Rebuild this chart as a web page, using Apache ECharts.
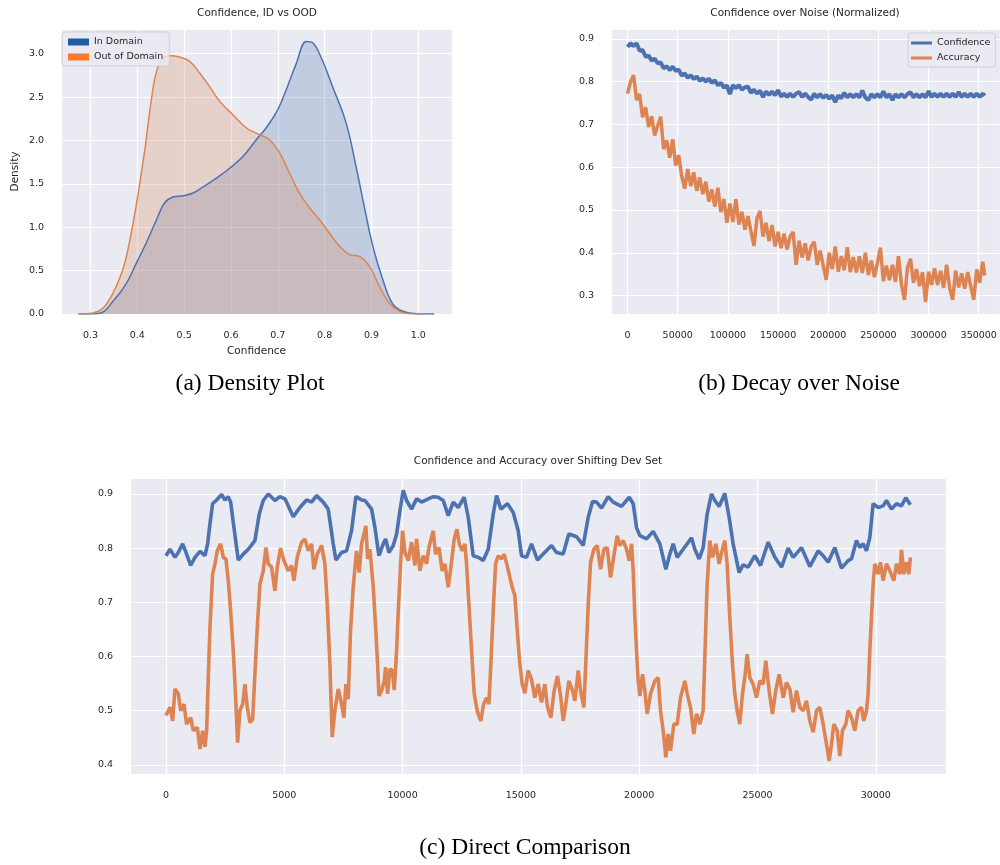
<!DOCTYPE html>
<html>
<head>
<meta charset="utf-8">
<script src="https://cdn.jsdelivr.net/npm/echarts@6/dist/echarts.min.js"></script>
<style>
  html, body { margin: 0; padding: 0; background: #fff; }
  #chart { width: 1000px; height: 865px; }
</style>
</head>
<body>
<div id="chart"></div>
<script>
// (a) density of confidence, in domain vs out of domain
const idConf = [0.274, 0.32, 0.348, 0.377, 0.4, 0.419, 0.441, 0.458, 0.476, 0.499, 0.519, 0.54, 0.569, 0.598, 0.626, 0.654, 0.675, 0.7, 0.718, 0.739, 0.761, 0.775, 0.793, 0.817, 0.846, 0.867, 0.888, 0.903, 0.924, 0.945, 0.967, 0.995, 1.034]
const idDensity = [0, 0.01, 0.146, 0.357, 0.61, 0.818, 1.087, 1.279, 1.348, 1.364, 1.395, 1.464, 1.567, 1.683, 1.817, 2.009, 2.144, 2.355, 2.585, 2.88, 3.142, 3.123, 2.95, 2.62, 2.2, 1.7, 1.15, 0.78, 0.4, 0.12, 0.031, 0.004, 0]
const oodConf = [0.277, 0.306, 0.327, 0.348, 0.37, 0.387, 0.402, 0.416, 0.43, 0.441, 0.455, 0.469, 0.49, 0.512, 0.533, 0.554, 0.576, 0.604, 0.633, 0.661, 0.682, 0.704, 0.725, 0.746, 0.768, 0.789, 0.81, 0.832, 0.853, 0.874, 0.896, 0.917, 0.938, 0.96, 0.981, 1.006]
const oodDensity = [0, 0.012, 0.069, 0.242, 0.53, 0.934, 1.395, 1.894, 2.47, 2.797, 2.95, 2.977, 2.962, 2.912, 2.778, 2.624, 2.451, 2.297, 2.144, 2.067, 2.009, 1.856, 1.625, 1.395, 1.222, 1.087, 0.934, 0.78, 0.684, 0.665, 0.549, 0.319, 0.127, 0.031, 0.004, 0]

// (b) decay over noise
const noiseSteps = [0, 3000, 6000, 9000, 12000, 15000, 18000, 21000, 24000, 27000, 30000, 33000, 36000, 39000, 42000, 45000, 48000, 51000, 54000, 57000,
  60000, 63000, 66000, 69000, 72000, 75000, 78000, 81000, 84000, 87000, 90000, 93000, 96000, 99000, 102000, 105000, 108000, 111000, 114000, 117000,
  120000, 123000, 126000, 129000, 132000, 135000, 138000, 141000, 144000, 147000, 150000, 153000, 156000, 159000, 162000, 165000, 168000, 171000, 174000, 177000,
  180000, 183000, 186000, 189000, 192000, 195000, 198000, 201000, 204000, 207000, 210000, 213000, 216000, 219000, 222000, 225000, 228000, 231000, 234000, 237000,
  240000, 243000, 246000, 249000, 252000, 255000, 258000, 261000, 264000, 267000, 270000, 273000, 276000, 279000, 282000, 285000, 288000, 291000, 294000, 297000,
  300000, 303000, 306000, 309000, 312000, 315000, 318000, 321000, 324000, 327000, 330000, 333000, 336000, 339000, 342000, 345000, 348000, 351000, 354000, 356000]
const noiseConfidence = [0.881, 0.89, 0.883, 0.89, 0.872, 0.874, 0.858, 0.861, 0.849, 0.854, 0.843, 0.845, 0.831, 0.836, 0.827, 0.835, 0.825, 0.828, 0.814, 0.819,
  0.809, 0.815, 0.806, 0.812, 0.802, 0.808, 0.8, 0.807, 0.797, 0.803, 0.792, 0.797, 0.786, 0.791, 0.771, 0.792, 0.785, 0.792, 0.781, 0.787,
  0.788, 0.774, 0.781, 0.772, 0.779, 0.764, 0.777, 0.769, 0.777, 0.768, 0.78, 0.765, 0.772, 0.764, 0.772, 0.764, 0.772, 0.776, 0.764, 0.772,
  0.764, 0.758, 0.772, 0.763, 0.771, 0.762, 0.769, 0.76, 0.768, 0.752, 0.768, 0.761, 0.774, 0.763, 0.771, 0.763, 0.771, 0.763, 0.779, 0.763,
  0.757, 0.771, 0.763, 0.771, 0.763, 0.777, 0.763, 0.771, 0.757, 0.771, 0.763, 0.771, 0.763, 0.771, 0.775, 0.763, 0.771, 0.763, 0.771, 0.763,
  0.778, 0.764, 0.772, 0.764, 0.772, 0.764, 0.772, 0.764, 0.772, 0.764, 0.776, 0.764, 0.772, 0.764, 0.772, 0.764, 0.772, 0.764, 0.772, 0.767]
const noiseAccuracy = [0.772, 0.8, 0.815, 0.757, 0.771, 0.717, 0.74, 0.694, 0.719, 0.674, 0.697, 0.718, 0.642, 0.663, 0.622, 0.665, 0.604, 0.628, 0.579, 0.55,
  0.596, 0.556, 0.588, 0.545, 0.576, 0.537, 0.566, 0.52, 0.548, 0.508, 0.552, 0.495, 0.526, 0.47, 0.515, 0.472, 0.525, 0.466, 0.496, 0.454,
  0.486, 0.45, 0.416, 0.481, 0.498, 0.438, 0.47, 0.427, 0.465, 0.415, 0.449, 0.411, 0.445, 0.408, 0.438, 0.449, 0.372, 0.428, 0.389, 0.422,
  0.382, 0.415, 0.426, 0.372, 0.405, 0.37, 0.337, 0.4, 0.362, 0.415, 0.356, 0.392, 0.359, 0.413, 0.355, 0.39, 0.354, 0.392, 0.353, 0.4,
  0.348, 0.382, 0.343, 0.376, 0.412, 0.334, 0.37, 0.336, 0.372, 0.332, 0.392, 0.326, 0.29, 0.366, 0.386, 0.33, 0.362, 0.322, 0.355, 0.285,
  0.356, 0.325, 0.364, 0.325, 0.358, 0.318, 0.372, 0.318, 0.29, 0.358, 0.319, 0.352, 0.316, 0.355, 0.322, 0.29, 0.361, 0.33, 0.379, 0.347]

// (c) shifting dev set
const shiftConfSteps = [0, 169, 380, 521, 704, 845, 1042, 1225, 1436, 1647, 1760, 1859, 1971, 2140, 2351, 2492, 2633, 2732, 2872, 3055,
  3267, 3478, 3759, 3942, 4111, 4323, 4604, 4815, 5027, 5379, 5660, 5942, 6153, 6364, 6646, 6857, 7068, 7181, 7420, 7631,
  7842, 8025, 8265, 8409, 8690, 8831, 9000, 9183, 9282, 9423, 9606, 9747, 9887, 10028, 10169, 10380, 10591, 10803, 11084, 11295,
  11506, 11718, 11929, 12140, 12351, 12605, 12774, 12985, 13196, 13408, 13619, 13830, 13971, 14154, 14435, 14675, 14886, 15027, 15238, 15449,
  15702, 15942, 16294, 16505, 16787, 17026, 17353, 17635, 17846, 18029, 18198, 18409, 18690, 18902, 19254, 19578, 19747, 19887, 20028, 20310,
  20591, 20873, 21126, 21295, 21436, 21605, 21859, 22211, 22351, 22534, 22703, 22872, 23055, 23196, 23379, 23618, 23801, 23970, 24224, 24393,
  24604, 24886, 25126, 25452, 25734, 26016, 26298, 26508, 26860, 27212, 27564, 27776, 27987, 28268, 28550, 28832, 28972, 29183, 29324, 29465,
  29606, 29747, 29887, 30099, 30310, 30451, 30662, 30873, 31084, 31267, 31464]
const shiftConfidence = [0.786, 0.798, 0.783, 0.792, 0.808, 0.792, 0.768, 0.783, 0.794, 0.786, 0.808, 0.845, 0.882, 0.889, 0.899, 0.889, 0.895, 0.885, 0.838, 0.778,
  0.789, 0.798, 0.814, 0.863, 0.888, 0.9, 0.888, 0.895, 0.891, 0.858, 0.875, 0.889, 0.885, 0.897, 0.885, 0.872, 0.808, 0.778, 0.792, 0.795,
  0.832, 0.895, 0.889, 0.888, 0.872, 0.838, 0.786, 0.808, 0.817, 0.792, 0.805, 0.826, 0.869, 0.907, 0.888, 0.872, 0.891, 0.885, 0.891, 0.895,
  0.894, 0.888, 0.86, 0.885, 0.875, 0.894, 0.857, 0.786, 0.783, 0.777, 0.798, 0.863, 0.897, 0.872, 0.882, 0.866, 0.832, 0.786, 0.783, 0.808,
  0.778, 0.789, 0.805, 0.792, 0.789, 0.826, 0.821, 0.805, 0.857, 0.886, 0.885, 0.874, 0.895, 0.885, 0.877, 0.894, 0.882, 0.838, 0.823, 0.817,
  0.831, 0.808, 0.761, 0.789, 0.808, 0.783, 0.798, 0.819, 0.798, 0.78, 0.801, 0.863, 0.9, 0.888, 0.877, 0.901, 0.857, 0.808, 0.755, 0.769,
  0.765, 0.786, 0.768, 0.811, 0.783, 0.765, 0.8, 0.783, 0.801, 0.766, 0.795, 0.786, 0.774, 0.801, 0.763, 0.777, 0.78, 0.814, 0.801, 0.808,
  0.795, 0.82, 0.882, 0.875, 0.878, 0.888, 0.872, 0.882, 0.878, 0.893, 0.88]
const shiftAccSteps = [0, 169, 282, 380, 521, 620, 760, 873, 1042, 1155, 1324, 1436, 1549, 1647, 1718, 1788, 1859, 1971, 2070, 2168,
  2309, 2422, 2534, 2633, 2732, 2844, 2957, 3027, 3126, 3239, 3337, 3436, 3548, 3661, 3759, 3858, 3971, 4111, 4224, 4323,
  4463, 4604, 4703, 4843, 4984, 5167, 5308, 5407, 5547, 5730, 5871, 6013, 6153, 6252, 6393, 6576, 6716, 6815, 6928, 7026,
  7139, 7280, 7420, 7518, 7603, 7702, 7800, 7913, 8054, 8166, 8265, 8364, 8448, 8522, 8620, 8761, 8860, 8944, 9000, 9113,
  9226, 9282, 9366, 9465, 9564, 9648, 9747, 9817, 9916, 10000, 10099, 10239, 10380, 10521, 10591, 10732, 10873, 11014, 11112, 11295,
  11394, 11534, 11675, 11788, 11929, 12042, 12182, 12295, 12394, 12520, 12633, 12703, 12802, 12915, 13027, 13168, 13309, 13422, 13548, 13647,
  13731, 13830, 13929, 14041, 14182, 14295, 14435, 14534, 14633, 14745, 14858, 14956, 15055, 15167, 15308, 15449, 15590, 15731, 15871, 16012,
  16125, 16266, 16407, 16548, 16689, 16787, 16900, 17026, 17184, 17282, 17423, 17522, 17663, 17747, 17846, 17945, 18085, 18226, 18367, 18508,
  18648, 18789, 18930, 19071, 19183, 19324, 19465, 19578, 19676, 19747, 19817, 19887, 19958, 20028, 20141, 20239, 20338, 20479, 20662, 20803,
  20901, 21014, 21126, 21225, 21324, 21464, 21605, 21746, 21929, 22028, 22168, 22309, 22422, 22563, 22703, 22774, 22872, 22984, 23097, 23238,
  23379, 23520, 23618, 23717, 23829, 23942, 24041, 24140, 24252, 24365, 24463, 24562, 24675, 24815, 24956, 25097, 25238, 25351, 25491, 25632,
  25773, 25914, 26086, 26227, 26368, 26508, 26649, 26790, 26931, 27072, 27212, 27353, 27494, 27635, 27776, 27916, 28029, 28127, 28226, 28367,
  28479, 28592, 28733, 28832, 28972, 29113, 29254, 29395, 29493, 29606, 29676, 29747, 29817, 29887, 29958, 30099, 30197, 30310, 30451, 30592,
  30760, 30873, 31014, 31084, 31183, 31295, 31394, 31464]
const shiftAccuracy = [0.491, 0.506, 0.481, 0.54, 0.531, 0.5, 0.512, 0.475, 0.487, 0.463, 0.469, 0.429, 0.463, 0.433, 0.463, 0.561, 0.654, 0.752, 0.771, 0.795,
  0.808, 0.783, 0.78, 0.74, 0.684, 0.611, 0.512, 0.441, 0.5, 0.512, 0.549, 0.506, 0.478, 0.484, 0.567, 0.654, 0.734, 0.758, 0.801, 0.771,
  0.765, 0.721, 0.765, 0.8, 0.777, 0.758, 0.768, 0.74, 0.783, 0.811, 0.817, 0.795, 0.808, 0.761, 0.789, 0.805, 0.771, 0.697, 0.586, 0.451,
  0.5, 0.54, 0.512, 0.487, 0.549, 0.521, 0.648, 0.728, 0.795, 0.755, 0.808, 0.826, 0.841, 0.78, 0.798, 0.728, 0.654, 0.586, 0.527, 0.537,
  0.555, 0.58, 0.531, 0.577, 0.574, 0.538, 0.611, 0.684, 0.771, 0.832, 0.792, 0.777, 0.811, 0.768, 0.817, 0.758, 0.786, 0.771, 0.801, 0.832,
  0.789, 0.801, 0.758, 0.771, 0.728, 0.765, 0.817, 0.835, 0.808, 0.795, 0.808, 0.771, 0.697, 0.611, 0.531, 0.497, 0.481, 0.512, 0.524, 0.512,
  0.586, 0.684, 0.771, 0.786, 0.78, 0.789, 0.765, 0.746, 0.728, 0.712, 0.641, 0.586, 0.549, 0.532, 0.574, 0.558, 0.524, 0.549, 0.515, 0.549,
  0.506, 0.487, 0.537, 0.564, 0.524, 0.481, 0.512, 0.555, 0.537, 0.518, 0.574, 0.537, 0.506, 0.592, 0.697, 0.774, 0.798, 0.805, 0.761, 0.798,
  0.801, 0.746, 0.786, 0.823, 0.805, 0.814, 0.798, 0.777, 0.808, 0.758, 0.672, 0.611, 0.555, 0.527, 0.567, 0.537, 0.494, 0.531, 0.555, 0.561,
  0.5, 0.463, 0.414, 0.457, 0.426, 0.475, 0.475, 0.524, 0.555, 0.531, 0.506, 0.457, 0.494, 0.475, 0.5, 0.598, 0.734, 0.814, 0.783, 0.808,
  0.771, 0.798, 0.814, 0.771, 0.672, 0.586, 0.531, 0.5, 0.475, 0.531, 0.561, 0.604, 0.561, 0.549, 0.524, 0.555, 0.549, 0.592, 0.537, 0.494,
  0.537, 0.567, 0.524, 0.552, 0.54, 0.497, 0.537, 0.506, 0.5, 0.518, 0.481, 0.46, 0.5, 0.506, 0.475, 0.438, 0.407, 0.438, 0.475, 0.463,
  0.416, 0.463, 0.475, 0.5, 0.487, 0.463, 0.5, 0.506, 0.481, 0.5, 0.531, 0.611, 0.672, 0.734, 0.771, 0.752, 0.774, 0.74, 0.771, 0.758,
  0.74, 0.771, 0.752, 0.797, 0.752, 0.774, 0.752, 0.783]

const BLUE = '#4c72b0'
const ORANGE = '#dd8452'
const FONT = `'DejaVu Sans', 'Liberation Sans', sans-serif`
const TEXT = '#262626'

function pairs (xs, ys) {
  return xs.map((x, i) => [x, ys[i]])
}

function valueAxis (gridIndex, min, max, step, fmt, extra, showMin) {
  return Object.assign({
    type: 'value',
    gridIndex: gridIndex,
    min: min,
    max: max,
    minInterval: step,
    maxInterval: step,
    axisLine: { show: false },
    axisTick: { show: false },
    splitLine: { show: true, lineStyle: { color: '#ffffff', width: 1.2 } },
    axisLabel: {
      showMinLabel: !!showMin,
      showMaxLabel: false,
      margin: 17,
      color: TEXT,
      fontSize: 9.5,
      fontFamily: FONT,
      formatter: fmt
    }
  }, extra || {})
}

const oneDecimal = v => v.toFixed(1)
const plainInt = v => String(Math.round(v))

function textTitle (text, x, y, size, serif) {
  return {
    text: text,
    left: x,
    top: y,
    textAlign: 'center',
    padding: 0,
    textStyle: {
      color: serif ? '#000' : TEXT,
      fontSize: size,
      fontWeight: 'normal',
      fontFamily: serif ? `'Liberation Serif', 'DejaVu Serif', serif` : FONT
    }
  }
}

const axisName = { color: TEXT, fontSize: 10.5, fontFamily: FONT }

const chart = echarts.init(document.getElementById('chart'))

const option = {
  animation: false,
  backgroundColor: '#ffffff',
  title: [
    textTitle('Confidence, ID vs OOD', 257, 8, 10.5),
    textTitle('Confidence over Noise (Normalized)', 805, 8, 10.5),
    textTitle('Confidence and Accuracy over Shifting Dev Set', 538, 456, 10.5),
    textTitle('(a) Density Plot', 250, 372, 23.5, true),
    textTitle('(b) Decay over Noise', 799, 372, 23.5, true),
    textTitle('(c) Direct Comparison', 525, 836, 23.5, true)
  ],
  legend: [
    {
      left: 62,
      top: 32,
      orient: 'vertical',
      icon: 'rect',
      itemWidth: 21,
      itemHeight: 7,
      itemGap: 3,
      padding: [4, 6, 3, 6],
      backgroundColor: 'rgba(234,234,242,0.85)',
      borderColor: '#cfcfd6',
      borderWidth: 1,
      borderRadius: 3,
      selectedMode: false,
      textStyle: { color: TEXT, fontSize: 9.5, fontFamily: FONT, lineHeight: 12 },
      data: [
        { name: 'In Domain', itemStyle: { color: '#1f5aa6' } },
        { name: 'Out of Domain', itemStyle: { color: '#f97a2a' } }
      ]
    },
    {
      left: 908,
      top: 33,
      orient: 'vertical',
      icon: 'rect',
      itemWidth: 21,
      itemHeight: 3,
      itemGap: 3,
      padding: [4, 5, 3, 3],
      backgroundColor: 'rgba(234,234,242,0.85)',
      borderColor: '#cfcfd6',
      borderWidth: 1,
      borderRadius: 3,
      selectedMode: false,
      textStyle: { color: TEXT, fontSize: 9.5, fontFamily: FONT, lineHeight: 12 },
      data: ['Confidence', 'Accuracy']
    }
  ],
  grid: [
    { left: 61, top: 29, width: 391, height: 285, show: true, backgroundColor: '#eaeaf2', borderWidth: 0 },
    { left: 611, top: 29, width: 389, height: 285, show: true, backgroundColor: '#eaeaf2', borderWidth: 0 },
    { left: 130, top: 478, width: 816, height: 296, show: true, backgroundColor: '#eaeaf2', borderWidth: 0 }
  ],
  xAxis: [
    valueAxis(0, 0.237, 1.072, 0.1, oneDecimal, {
      name: 'Confidence',
      nameLocation: 'middle',
      nameGap: 32,
      nameTextStyle: axisName
    }),
    valueAxis(1, -16500, 371200, 50000, plainInt),
    valueAxis(2, -1521, 32967, 5000, plainInt)
  ],
  yAxis: [
    valueAxis(0, 0, 3.285, 0.5, oneDecimal, {
      name: 'Density',
      nameLocation: 'middle',
      nameGap: 40,
      nameTextStyle: axisName
    }, true),
    valueAxis(1, 0.257, 0.923, 0.1, oneDecimal),
    valueAxis(2, 0.383, 0.9295, 0.1, oneDecimal)
  ],
  series: [
    {
      name: 'In Domain',
      type: 'line',
      xAxisIndex: 0,
      yAxisIndex: 0,
      smooth: 0.4,
      showSymbol: false,
      lineStyle: { color: BLUE, width: 1.5 },
      itemStyle: { color: BLUE },
      areaStyle: { color: BLUE, opacity: 0.25 },
      data: pairs(idConf, idDensity)
    },
    {
      name: 'Out of Domain',
      type: 'line',
      xAxisIndex: 0,
      yAxisIndex: 0,
      smooth: 0.4,
      showSymbol: false,
      lineStyle: { color: ORANGE, width: 1.5 },
      itemStyle: { color: ORANGE },
      areaStyle: { color: ORANGE, opacity: 0.25 },
      data: pairs(oodConf, oodDensity)
    },
    {
      name: 'Confidence',
      type: 'line',
      xAxisIndex: 1,
      yAxisIndex: 1,
      showSymbol: false,
      lineStyle: { color: BLUE, width: 4 },
      itemStyle: { color: BLUE },
      data: pairs(noiseSteps, noiseConfidence)
    },
    {
      name: 'Accuracy',
      type: 'line',
      xAxisIndex: 1,
      yAxisIndex: 1,
      showSymbol: false,
      lineStyle: { color: ORANGE, width: 3.5 },
      itemStyle: { color: ORANGE },
      data: pairs(noiseSteps, noiseAccuracy)
    },
    {
      name: 'Shift Confidence',
      type: 'line',
      xAxisIndex: 2,
      yAxisIndex: 2,
      showSymbol: false,
      lineStyle: { color: BLUE, width: 3.6 },
      itemStyle: { color: BLUE },
      data: pairs(shiftConfSteps, shiftConfidence)
    },
    {
      name: 'Shift Accuracy',
      type: 'line',
      xAxisIndex: 2,
      yAxisIndex: 2,
      showSymbol: false,
      lineStyle: { color: ORANGE, width: 3.6 },
      itemStyle: { color: ORANGE },
      data: pairs(shiftAccSteps, shiftAccuracy)
    }
  ]
}

chart.setOption(option)
</script>
</body>
</html>
